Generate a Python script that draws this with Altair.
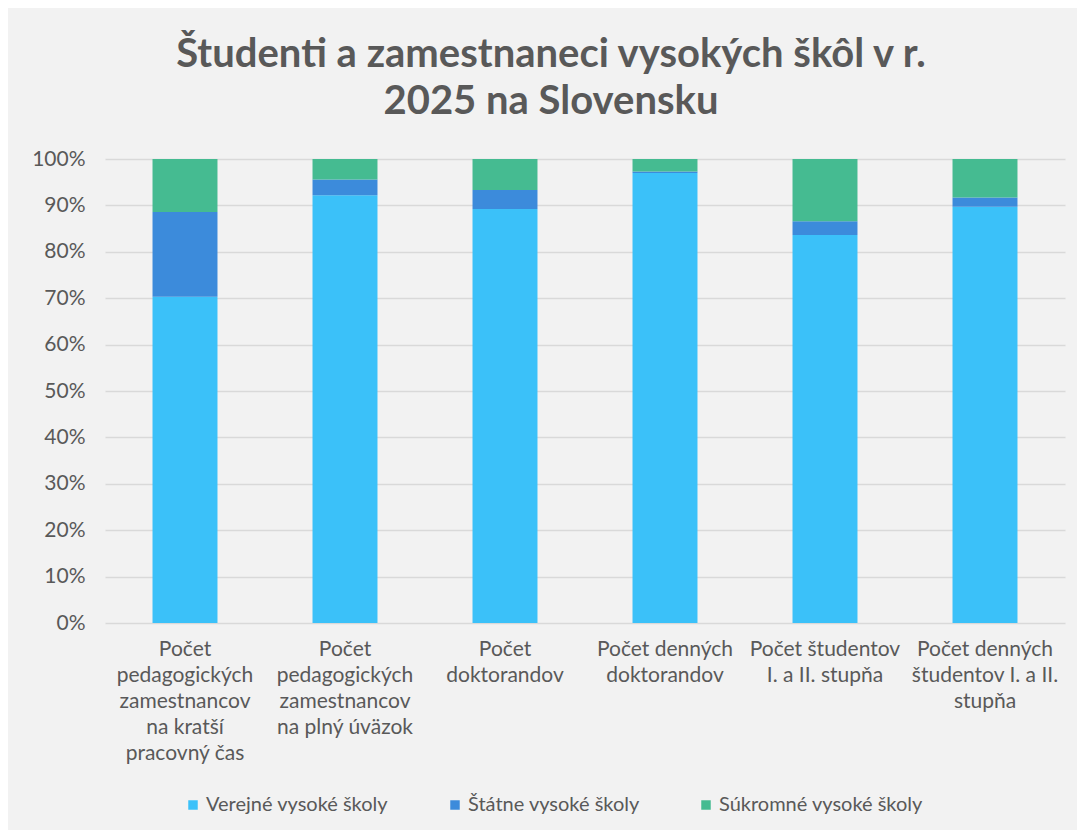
import altair as alt
import pandas as pd

categories = [
    "Počet|pedagogických|zamestnancov|na kratší|pracovný čas",
    "Počet|pedagogických|zamestnancov|na plný úväzok",
    "Počet|doktorandov",
    "Počet denných|doktorandov",
    "Počet študentov|I. a II. stupňa",
    "Počet denných|študentov I. a II.|stupňa",
]
series = ["Verejné vysoké školy", "Štátne vysoké školy", "Súkromné vysoké školy"]
public_vals = [70.3, 92.2, 89.2, 97.0, 83.6, 89.7]
state_vals = [18.3, 3.4, 4.1, 0.3, 3.0, 2.0]
private_vals = [11.4, 4.4, 6.7, 2.7, 13.4, 8.3]
colors = ["#3BC1F9", "#3C8BDB", "#45BB91"]

rows = []
for si, (name, vals) in enumerate(zip(series, [public_vals, state_vals, private_vals])):
    for c, v in zip(categories, vals):
        rows.append({"kategoria": c, "typ": name, "hodnota": v, "poradie": si})
df = pd.DataFrame(rows)

FONT = "Lato"
GREY = "#595959"

chart = alt.Chart(df).mark_bar().encode(
    x=alt.X(
        "kategoria:N",
        sort=categories,
        title=None,
        scale=alt.Scale(paddingInner=0.594, paddingOuter=0.297),
        axis=alt.Axis(
            labelExpr="split(datum.value, '|')",
            labelAngle=0,
            labelFont=FONT,
            labelFontSize=21,
            labelColor=GREY,
            labelLineHeight=26,
            labelPadding=15,
            labelBaseline="top",
            labelLimit=0,
            ticks=False,
            domain=False,
            grid=False,
        ),
    ),
    y=alt.Y(
        "hodnota:Q",
        stack="normalize",
        title=None,
        scale=alt.Scale(domain=[0, 1]),
        axis=alt.Axis(
            format=".0%",
            values=[i / 10 for i in range(11)],
            labelFont=FONT,
            labelFontSize=21,
            labelColor=GREY,
            labelPadding=20,
            ticks=False,
            domain=False,
            gridColor="#D9D9D9",
            gridWidth=1.5,
        ),
    ),
    color=alt.Color(
        "typ:N",
        scale=alt.Scale(domain=series, range=colors),
        legend=alt.Legend(
            title=None,
            orient="none",
            direction="horizontal",
            legendX=78,
            legendY=636,
            labelFont=FONT,
            labelFontSize=20,
            labelColor=GREY,
            labelLimit=0,
            symbolType="square",
            symbolSize=90,
            symbolStrokeWidth=0,
            columnPadding=56,
            labelOffset=3,
        ),
    ),
    order=alt.Order("poradie:Q", sort="ascending"),
).properties(
    width=960,
    height=464,
    background="#F2F2F2",
    padding={"left": 97, "top": 151, "right": 12, "bottom": 207},
    autosize=alt.AutoSizeParams(type="none"),
    title=alt.TitleParams(
        text=["Študenti a zamestnaneci vysokých škôl v r.", "2025 na Slovensku"],
        font=FONT,
        fontSize=40,
        fontWeight="bold",
        color=GREY,
        lineHeight=47,
        offset=26,
        dx=-34,
        anchor="middle",
    ),
).configure_view(stroke=None)

chart.save("out.html", embed_options={"renderer": "svg", "actions": False})
